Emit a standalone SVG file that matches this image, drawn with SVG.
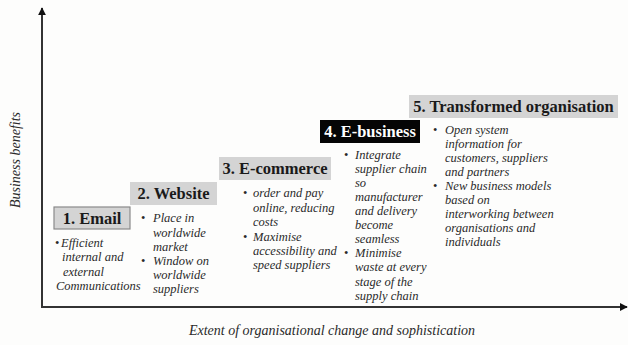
<svg xmlns="http://www.w3.org/2000/svg" width="628" height="345" viewBox="0 0 628 345">
<defs>
<marker id="arr" viewBox="0 0 10 10" refX="9" refY="5" markerWidth="4" markerHeight="4" orient="auto" markerUnits="strokeWidth">
<path d="M0,0 L10,5 L0,10 z" fill="#111"/>
</marker>
<style>
.t{font-weight:bold;font-size:16.5px;fill:#1a1a1a;text-anchor:middle}
.b{font-style:italic;font-size:12.5px;fill:#2a2a2a}
.d{font-size:12.5px;fill:#2a2a2a}
.ax{font-style:italic;font-size:14px;fill:#2a2a2a}
.box{fill:#d4d4d4}
</style>
</defs>
<rect width="628" height="345" fill="#fdfdfc"/>
<g id="connectors">
<line x1="42" y1="307" x2="42" y2="8" stroke="#333" stroke-width="2" marker-end="url(#arr)"/>
<line x1="41" y1="307" x2="627" y2="307" stroke="#333" stroke-width="2" marker-end="url(#arr)"/>
</g>
<g font-family="Liberation Serif, serif">
<g id="axis-labels">
<text class="ax" transform="translate(20,160) rotate(-90)" text-anchor="middle">Business benefits</text>
<text class="ax" x="332" y="335" text-anchor="middle">Extent of organisational change and sophistication</text>
</g>
<g id="email">
<rect class="box" x="54" y="207" width="76" height="22" stroke="#8a8a8a" stroke-width="1.2"/>
<text class="t" x="92" y="224">1. Email</text>
<text class="d" x="55" y="247">•</text>
<text class="b" x="61" y="247">Efficient</text>
<text class="b" x="62" y="261">internal and</text>
<text class="b" x="63" y="276">external</text>
<text class="b" x="56" y="290">Communications</text>
</g>
<g id="website">
<rect class="box" x="130" y="182" width="87" height="23"/>
<text class="t" x="173.5" y="199">2. Website</text>
<text class="d" x="141" y="222">•</text>
<text class="b" x="153" y="222">Place in</text>
<text class="b" x="153" y="237">worldwide</text>
<text class="b" x="153" y="251">market</text>
<text class="d" x="141" y="265">•</text>
<text class="b" x="153" y="265">Window on</text>
<text class="b" x="153" y="279">worldwide</text>
<text class="b" x="153" y="293">suppliers</text>
</g>
<g id="ecommerce">
<rect class="box" x="219" y="157" width="112" height="23"/>
<text class="t" x="275" y="174">3. E-commerce</text>
<text class="d" x="243" y="197">•</text>
<text class="b" x="253" y="197">order and pay</text>
<text class="b" x="253" y="212">online, reducing</text>
<text class="b" x="253" y="226">costs</text>
<text class="d" x="243" y="241">•</text>
<text class="b" x="253" y="241">Maximise</text>
<text class="b" x="253" y="255">accessibility and</text>
<text class="b" x="253" y="269">speed suppliers</text>
</g>
<g id="ebusiness">
<rect x="320" y="120" width="100" height="23" fill="#050505"/>
<text class="t" x="370" y="137" style="fill:#ffffff">4. E-business</text>
<text class="d" x="344" y="159">•</text>
<text class="b" x="355" y="159">Integrate</text>
<text class="b" x="355" y="173">supplier chain</text>
<text class="b" x="355" y="187">so</text>
<text class="b" x="355" y="201">manufacturer</text>
<text class="b" x="355" y="215">and delivery</text>
<text class="b" x="355" y="229">become</text>
<text class="b" x="355" y="243">seamless</text>
<text class="d" x="344" y="257">•</text>
<text class="b" x="355" y="257">Minimise</text>
<text class="b" x="355" y="271">waste at every</text>
<text class="b" x="355" y="286">stage of the</text>
<text class="b" x="355" y="300">supply chain</text>
</g>
<g id="transformed">
<rect class="box" x="409" y="95" width="209" height="23"/>
<text class="t" x="513.5" y="112">5. Transformed organisation</text>
<text class="d" x="433" y="134">•</text>
<text class="b" x="445" y="134">Open system</text>
<text class="b" x="445" y="148">information for</text>
<text class="b" x="445" y="162">customers, suppliers</text>
<text class="b" x="445" y="176">and partners</text>
<text class="d" x="433" y="190">•</text>
<text class="b" x="445" y="190">New business models</text>
<text class="b" x="445" y="204">based on</text>
<text class="b" x="445" y="218">interworking between</text>
<text class="b" x="445" y="232">organisations and</text>
<text class="b" x="445" y="246">individuals</text>
</g>
</g>
</svg>
